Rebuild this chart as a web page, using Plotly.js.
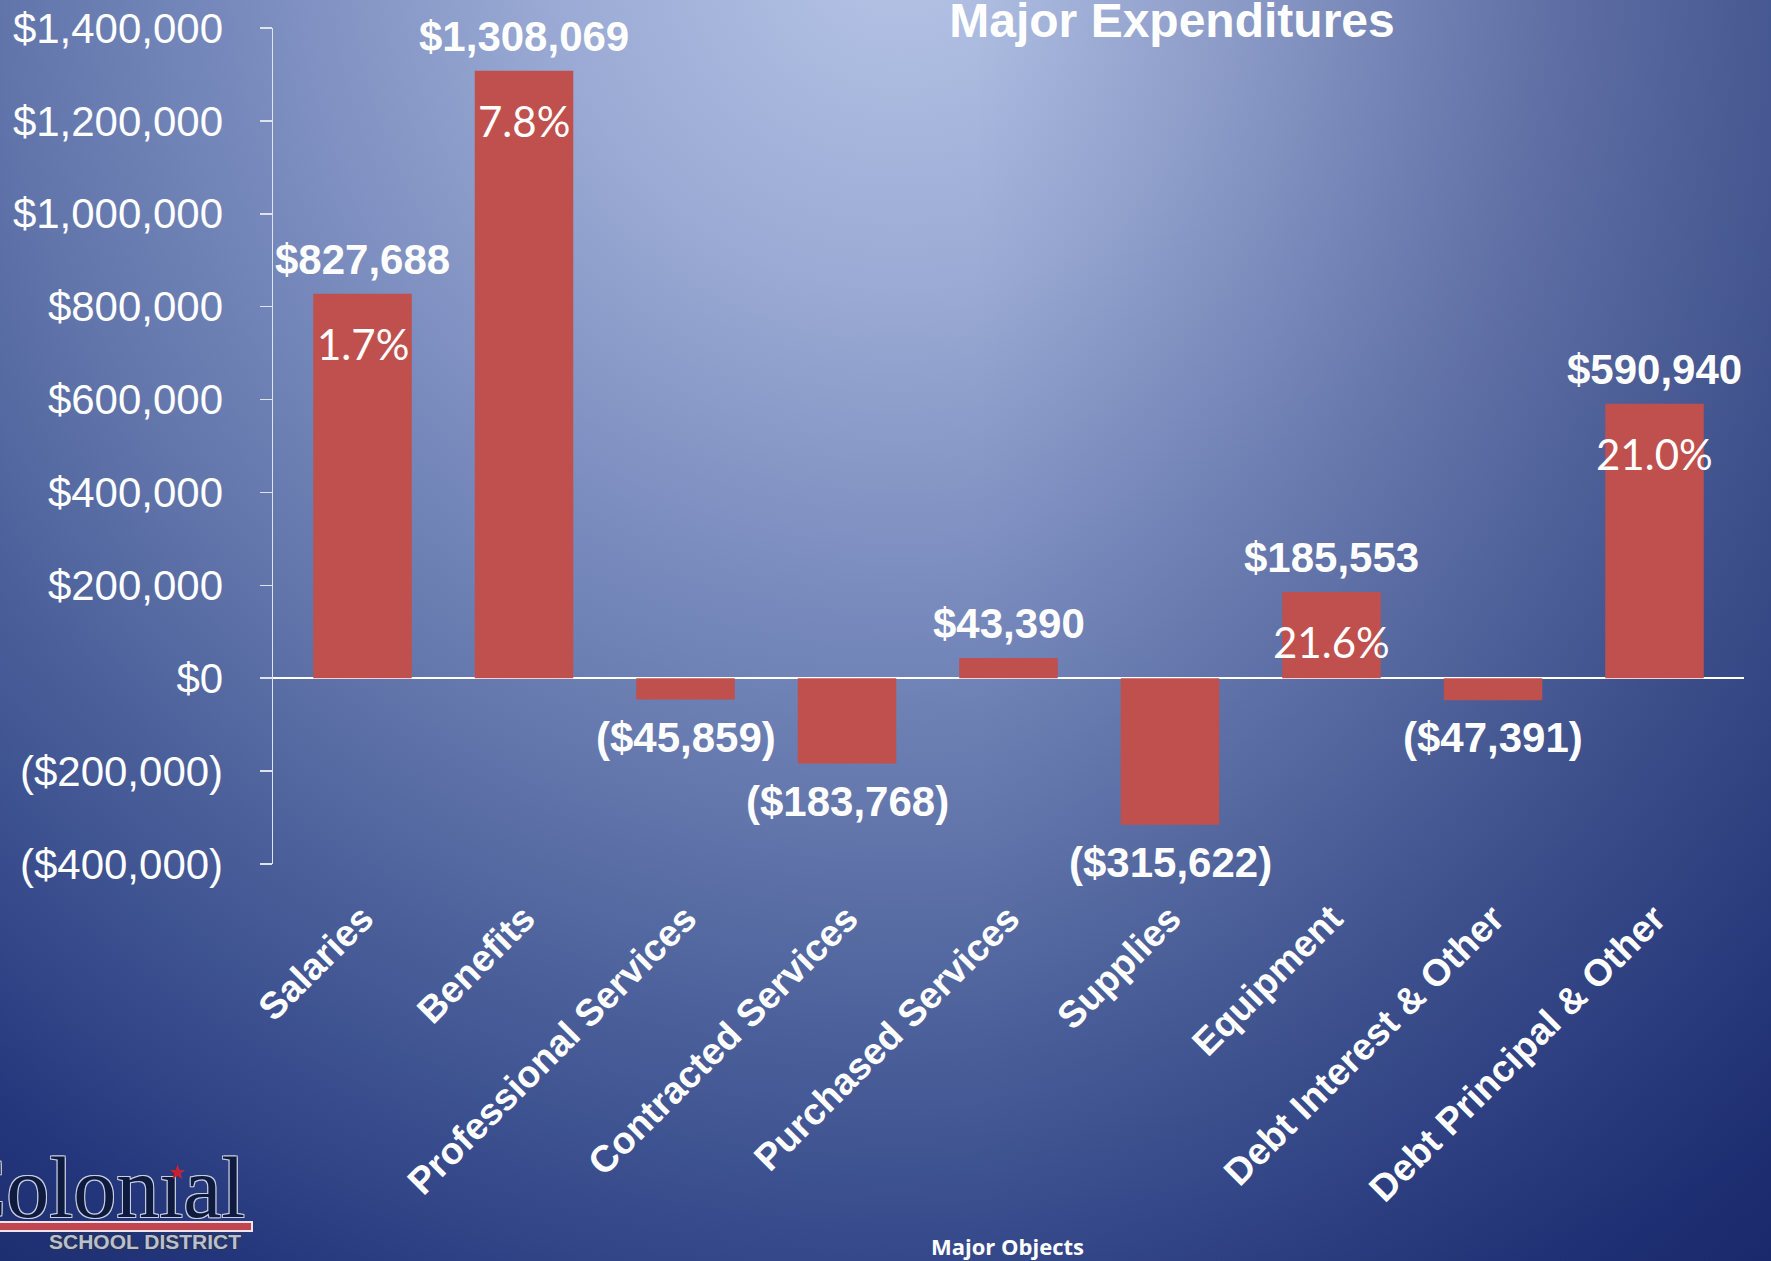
<!DOCTYPE html>
<html>
<head>
<meta charset="utf-8">
<script src="https://cdn.plot.ly/plotly-3.0.1.min.js"></script>
<style>
  html, body { margin: 0; padding: 0; }
  body {
    width: 1771px; height: 1261px; overflow: hidden;
    background:
      linear-gradient(to right, rgba(18,30,95,0) 55%, rgba(18,30,95,0.35) 100%),
      radial-gradient(circle at 900px -60px, #b6c4e6 0px, #9aaad4 350px, #7a8cbe 650px, #6175ab 900px, #4b609a 1100px, #374b8c 1300px, #24367b 1480px, #1a2a6c 1650px);
  }
  #chart { width: 1771px; height: 1261px; }
</style>
</head>
<body>
<div id="chart"></div>
<script>
const categories = ['Salaries', 'Benefits', 'Professional Services', 'Contracted Services',
    'Purchased Services', 'Supplies', 'Equipment', 'Debt Interest & Other', 'Debt Principal & Other'];
const changes = [827688, 1308069, -45859, -183768, 43390, -315622, 185553, -47391, 590940];
const pctLabels = ['1.7%', '7.8%', '', '', '', '', '21.6%', '', '21.0%'];
const yTicks = [-400000, -200000, 0, 200000, 400000, 600000, 800000, 1000000, 1200000, 1400000];

function money(v) {
    const s = '$' + Math.abs(v).toLocaleString('en-US');
    return v < 0 ? '(' + s + ')' : s;
}

// plot area in pixels
const L = 273, R = 1744, T = 28, B = 864;
function px(x) { return (x - L) / (R - L); }
function py(y) { return (B - y) / (B - T); }

const white = '#FFFFFF';
const annotations = [];

categories.forEach(function (c, i) {
    const v = changes[i];
    annotations.push({
        x: c, y: v, xref: 'x', yref: 'y',
        text: money(v), showarrow: false,
        yanchor: v >= 0 ? 'bottom' : 'top',
        yshift: v >= 0 ? 9 : -12,
        font: {family: 'Liberation Sans, Arial, sans-serif', size: 42, color: white, weight: 'bold'}
    });
    if (pctLabels[i]) {
        annotations.push({
            x: c, y: v, xref: 'x', yref: 'y',
            text: pctLabels[i], showarrow: false,
            yanchor: 'middle', yshift: -50,
            font: {family: 'Lato, Liberation Sans, sans-serif', size: 42, color: white}
        });
    }
});

annotations.push({
    x: px(1007), y: py(1246), xref: 'paper', yref: 'paper',
    text: 'Major Objects', showarrow: false, xanchor: 'center', yanchor: 'middle',
    font: {family: 'Open Sans, sans-serif', size: 22, color: white, weight: 'bold'}
});

// school logo
const outline = '-1px -1px 0 #c9cfe2, 1px -1px 0 #c9cfe2, -1px 1px 0 #c9cfe2, 1px 1px 0 #c9cfe2';
annotations.push({
    x: px(247), y: py(1188), xref: 'paper', yref: 'paper',
    text: 'Colon\u0131al', showarrow: false, xanchor: 'right', yanchor: 'middle',
    font: {family: 'Liberation Serif, serif', size: 86, color: '#0e1a3e', shadow: outline}
});
annotations.push({
    x: px(177), y: py(1172), xref: 'paper', yref: 'paper',
    text: '\u2605', showarrow: false, xanchor: 'center', yanchor: 'middle',
    font: {family: 'DejaVu Sans, sans-serif', size: 20, color: '#c8202c'}
});
annotations.push({
    x: px(145), y: py(1241), xref: 'paper', yref: 'paper',
    text: 'SCHOOL DISTRICT', showarrow: false, xanchor: 'center', yanchor: 'middle',
    font: {family: 'Liberation Sans, Arial, sans-serif', size: 21, color: '#b9c0d2', weight: 'bold',
        shadow: '-1px -1px 0 #2a3350, 1px -1px 0 #2a3350, -1px 1px 0 #2a3350, 1px 1px 0 #2a3350'}
});

const shapes = [{
    type: 'rect', xref: 'paper', yref: 'paper',
    x0: px(-5), x1: px(252), y0: py(1231), y1: py(1222),
    fillcolor: '#c0474f', line: {color: '#f2e4ea', width: 2}, layer: 'above'
}];

const trace = {
    type: 'bar',
    x: categories,
    y: changes,
    marker: {color: '#C0504D'},
    hoverinfo: 'x+y'
};

const layout = {
    width: 1771,
    height: 1261,
    margin: {l: L, r: 1771 - R, t: T, b: 1261 - B},
    paper_bgcolor: 'rgba(0,0,0,0)',
    plot_bgcolor: 'rgba(0,0,0,0)',
    bargap: 0.39,
    showlegend: false,
    title: {
        text: 'Major Expenditures',
        x: 1172 / 1771, xanchor: 'center',
        yref: 'container', y: 1 - 20 / 1261, yanchor: 'middle',
        font: {family: 'Liberation Sans, Arial, sans-serif', size: 48, color: white, weight: 'bold'}
    },
    xaxis: {
        type: 'category',
        showgrid: false,
        showline: false,
        zeroline: false,
        tickangle: -45,
        ticks: '',
        ticklabelstandoff: 24,
        tickfont: {family: 'Liberation Sans, Arial, sans-serif', size: 37.5, color: white, weight: 'bold'},
        automargin: false
    },
    yaxis: {
        range: [-400000, 1400000],
        tickvals: yTicks,
        ticktext: yTicks.map(money),
        showgrid: false,
        showline: true,
        linecolor: '#dfe3ee',
        linewidth: 1.5,
        ticks: 'outside',
        ticklen: 12,
        tickwidth: 1.5,
        tickcolor: '#dfe3ee',
        ticklabelstandoff: 28,
        zeroline: true,
        zerolinecolor: white,
        zerolinewidth: 2,
        tickfont: {family: 'Liberation Sans, Arial, sans-serif', size: 42, color: white},
        automargin: false
    },
    annotations: annotations,
    shapes: shapes
};

Plotly.newPlot('chart', [trace], layout, {displayModeBar: false, staticPlot: true});
</script>
</body>
</html>
